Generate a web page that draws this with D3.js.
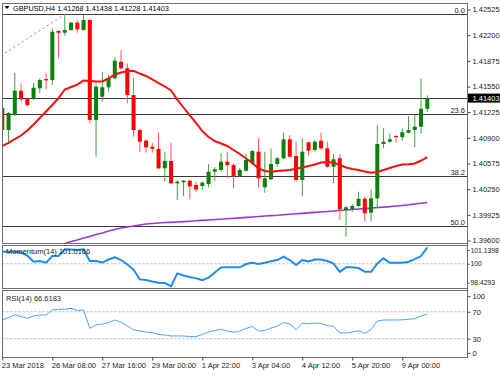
<!DOCTYPE html>
<html>
<head>
<meta charset="utf-8">
<script src="https://cdn.jsdelivr.net/npm/d3@7"></script>
<style>
body { margin: 0; background: #fff; }
svg { display: block; font-family: "Liberation Sans", Arial, sans-serif; }
</style>
</head>
<body>
<div id="chart"></div>
<script>
var width = 500;
var height = 375;

// time axis: bar index -> label
var timeIndex = [0, 8, 16, 24, 32, 40, 48, 56, 64];
var timeLabels = ["23 Mar 2018", "26 Mar 08:00", "27 Mar 16:00", "29 Mar 00:00", "1 Apr 22:00",
    "3 Apr 04:00", "4 Apr 12:00", "5 Apr 20:00", "9 Apr 00:00"];

var priceTicks = [1.42525, 1.42200, 1.41875, 1.41550, 1.41225, 1.40900, 1.40575, 1.40250, 1.39925, 1.39600];
var momTicks = [101.1398, 100, 98.4293];
var rsiTicks = [100, 70, 30, 0];

// GBPUSD H4 candles
var open = [1.41278, 1.40999, 1.41189, 1.41497, 1.41392, 1.41400, 1.41527, 1.41645, 1.41632, 1.42253,
    1.42231, 1.42265, 1.42358, 1.42265, 1.42392, 1.41126, 1.41421, 1.41540, 1.41654, 1.41864,
    1.41780, 1.41442, 1.40999, 1.40864, 1.40788, 1.40762, 1.40514, 1.40607, 1.40324, 1.40337,
    1.40357, 1.40303, 1.40290, 1.40315, 1.40471, 1.40493, 1.40598, 1.40556, 1.40417, 1.40484,
    1.40578, 1.40724, 1.40274, 1.40375, 1.40569, 1.40641, 1.40881, 1.40670, 1.40366, 1.40843,
    1.40746, 1.40864, 1.40767, 1.40534, 1.40641, 1.39986, 1.39995, 1.40037, 1.40129, 1.39952,
    1.40134, 1.40822, 1.40851, 1.40923, 1.40907, 1.40965, 1.40999, 1.41041, 1.41268];
var high = [1.41303, 1.41227, 1.41725, 1.41590, 1.41408, 1.41598, 1.41654, 1.41725, 1.42287, 1.42265,
    1.42465, 1.42370, 1.42392, 1.42455, 1.42413, 1.41598, 1.41737, 1.41695, 1.41920, 1.42012,
    1.41844, 1.41661, 1.41012, 1.40881, 1.40838, 1.40965, 1.40724, 1.40838, 1.40366, 1.40366,
    1.40366, 1.40345, 1.40345, 1.40569, 1.40527, 1.40704, 1.40724, 1.40578, 1.40518, 1.40695,
    1.40746, 1.40894, 1.40724, 1.40767, 1.40661, 1.40965, 1.40936, 1.40851, 1.40894, 1.40851,
    1.40873, 1.40965, 1.40851, 1.40695, 1.40695, 1.40037, 1.40062, 1.40218, 1.40155, 1.40248,
    1.41062, 1.41021, 1.40957, 1.40936, 1.41021, 1.41176, 1.41189, 1.41654, 1.41438];
var low = [1.40974, 1.40847, 1.41176, 1.41357, 1.41294, 1.41379, 1.41464, 1.41514, 1.41569, 1.41907,
    1.42193, 1.42256, 1.42231, 1.42259, 1.41084, 1.40661, 1.41357, 1.41484, 1.41641, 1.41768,
    1.41337, 1.40914, 1.40724, 1.40712, 1.40712, 1.40502, 1.40345, 1.40315, 1.40113, 1.40163,
    1.40122, 1.40210, 1.40239, 1.40274, 1.40357, 1.40471, 1.40388, 1.40261, 1.40404, 1.40471,
    1.40556, 1.40269, 1.40205, 1.40366, 1.40534, 1.40628, 1.40653, 1.40345, 1.40155, 1.40670,
    1.40724, 1.40746, 1.40522, 1.40324, 1.39860, 1.39648, 1.39965, 1.40028, 1.39838, 1.39838,
    1.40008, 1.40767, 1.40838, 1.40838, 1.40864, 1.40957, 1.40780, 1.40957, 1.41228];
var close = [1.40999, 1.41214, 1.41497, 1.41388, 1.41316, 1.41535, 1.41632, 1.41628, 1.42244, 1.42231,
    1.42265, 1.42358, 1.42274, 1.42392, 1.41126, 1.41547, 1.41540, 1.41654, 1.41877, 1.41780,
    1.41442, 1.40999, 1.40851, 1.40780, 1.40762, 1.40514, 1.40607, 1.40324, 1.40345, 1.40357,
    1.40286, 1.40246, 1.40332, 1.40471, 1.40502, 1.40598, 1.40556, 1.40417, 1.40493, 1.40619,
    1.40733, 1.40388, 1.40388, 1.40569, 1.40641, 1.40881, 1.40661, 1.40366, 1.40724, 1.40737,
    1.40851, 1.40767, 1.40534, 1.40628, 1.39995, 1.40020, 1.40037, 1.40129, 1.39944, 1.40134,
    1.40822, 1.40851, 1.40881, 1.40910, 1.40970, 1.40999, 1.41041, 1.41268, 1.41403];

// moving averages
var maRed = [1.40797, 1.40835, 1.40885, 1.40929, 1.40993, 1.41069, 1.41151, 1.41233, 1.41316, 1.41404,
    1.41512, 1.41544, 1.41573, 1.41626, 1.41620, 1.41613, 1.41613, 1.41651, 1.41702, 1.41727,
    1.41744, 1.41749, 1.41714, 1.41683, 1.41639, 1.41594, 1.41550, 1.41499, 1.41385, 1.41284,
    1.41183, 1.41088, 1.40986, 1.40910, 1.40860, 1.40828, 1.40797, 1.40746, 1.40695, 1.40638,
    1.40581, 1.40514, 1.40480, 1.40471, 1.40480, 1.40486, 1.40493, 1.40509, 1.40524, 1.40543,
    1.40562, 1.40588, 1.40594, 1.40588, 1.40556, 1.40524, 1.40505, 1.40493, 1.40474, 1.40458,
    1.40467, 1.40493, 1.40518, 1.40543, 1.40562, 1.40566, 1.40575, 1.40613, 1.40657];
var maPurple = [null, null, null, null, null, null, null, null, null, null,
    1.39562, 1.39587, 1.39606, 1.39632, 1.39651, 1.39676, 1.39695, 1.39720, 1.39739, 1.39758,
    1.39771, 1.39784, 1.39796, 1.39809, 1.39815, 1.39822, 1.39827, 1.39830, 1.39834, 1.39839,
    1.39844, 1.39850, 1.39855, 1.39860, 1.39865, 1.39870, 1.39876, 1.39881, 1.39887, 1.39893,
    1.39898, 1.39904, 1.39910, 1.39915, 1.39920, 1.39927, 1.39933, 1.39938, 1.39944, 1.39950,
    1.39956, 1.39961, 1.39967, 1.39974, 1.39980, 1.39986, 1.39993, 1.39999, 1.40004, 1.40010,
    1.40017, 1.40023, 1.40029, 1.40037, 1.40044, 1.40052, 1.40062, 1.40071, 1.40081];

// Momentum(14)
var momentum = [100.996, 100.996, 100.996, 100.929, 100.680, 100.166, 100.224, 100.083, 100.639, 100.639,
    101.195, 101.178, 101.137, 101.195, 100.224, 100.224, 100.100, 100.349, 100.531, 100.307,
    99.934, 99.519, 98.705, 98.647, 98.523, 98.423, 98.398, 98.149, 99.203, 99.021,
    98.896, 98.788, 98.647, 98.855, 99.270, 99.685, 99.701, 99.701, 99.701, 99.975,
    100.083, 99.975, 100.083, 100.199, 100.307, 100.581, 100.307, 99.892, 100.307, 100.183,
    100.349, 100.349, 100.224, 100.017, 99.336, 99.701, 99.701, 99.643, 99.336, 99.336,
    100.017, 100.448, 100.083, 100.083, 100.083, 100.166, 100.390, 100.639, 101.361];

// RSI(14)
var rsi = [57.8, 61.5, 65.2, 63.0, 60.3, 63.7, 65.2, 65.2, 72.6, 73.6,
    73.6, 75.1, 71.9, 72.6, 45.5, 50.4, 51.9, 53.8, 57.8, 54.1,
    48.9, 43.0, 41.5, 40.0, 39.0, 36.3, 35.6, 34.1, 34.1, 34.1,
    33.3, 33.0, 36.3, 40.0, 42.2, 44.0, 41.5, 39.6, 41.5, 45.2,
    48.1, 41.5, 42.2, 45.9, 48.6, 54.1, 51.9, 43.7, 53.3, 52.1,
    53.3, 52.6, 49.6, 48.4, 38.5, 38.5, 40.0, 41.9, 38.1, 43.4,
    56.3, 57.8, 57.8, 57.8, 58.1, 58.8, 59.7, 63.7, 66.6];

// Fibonacci retracement anchors
var fibLevels = [0, 23.6, 38.2, 50.0];
var fibHigh = 1.42465, fibHighBar = 10;
var fibLow = 1.37091, fibLowBar = -94;
var lastPrice = 1.41403;

var svg = d3.select("#chart").append("svg")
    .attr("width", width)
    .attr("height", height);

svg.append("rect").attr("width", width).attr("height", height).attr("fill", "#fff");

// panel boxes
var left = 2.5, right = 467.5;
var panels = [
    { top: 3.5, bottom: 243.5 },
    { top: 245.5, bottom: 288.5 },
    { top: 290.5, bottom: 357.5 }
];

var x = d3.scaleLinear().domain([0, 68]).range([2.3, 427.3]);
var y = d3.scaleLinear().domain([1.39600, 1.42525]).range([240.5, 9.5]);
var yMom = d3.scaleLinear().domain([98.4293, 101.1398]).range([282.7, 250]);
var yRsi = d3.scaleLinear().domain([0, 100]).range([359, 291.5]);

var defs = svg.append("defs");
defs.append("clipPath").attr("id", "clipMain").append("rect")
    .attr("x", 3).attr("y", 4).attr("width", 464).attr("height", 239);
defs.append("clipPath").attr("id", "clipMom").append("rect")
    .attr("x", 3).attr("y", 246).attr("width", 464).attr("height", 42);
defs.append("clipPath").attr("id", "clipRsi").append("rect")
    .attr("x", 3).attr("y", 291).attr("width", 464).attr("height", 66);

// ---------- main panel ----------
var main = svg.append("g").attr("clip-path", "url(#clipMain)");

// fib levels
var fibPrice = function(lv) { return fibHigh - lv / 100 * (fibHigh - fibLow); };
main.selectAll("line.fib")
    .data(fibLevels)
    .enter()
    .append("line")
    .attr("x1", left).attr("x2", right)
    .attr("y1", function(d) { return Math.round(y(fibPrice(d))) + 0.5; })
    .attr("y2", function(d) { return Math.round(y(fibPrice(d))) + 0.5; })
    .attr("stroke", "#3c3c3c")
    .attr("stroke-width", 1);

// fib trend line (dotted)
main.append("line")
    .attr("x1", x(fibLowBar)).attr("y1", y(fibLow))
    .attr("x2", x(fibHighBar)).attr("y2", y(fibHigh))
    .attr("stroke", "#f06060")
    .attr("stroke-width", 1)
    .attr("stroke-dasharray", "2,3");

// current price line
main.append("line")
    .attr("x1", left).attr("x2", right)
    .attr("y1", Math.round(y(lastPrice)) + 0.5)
    .attr("y2", Math.round(y(lastPrice)) + 0.5)
    .attr("stroke", "#3c3c3c")
    .attr("stroke-width", 1);

// moving averages
var maLine = d3.line()
    .defined(function(d) { return d != null; })
    .x(function(d, i) { return x(i); })
    .y(function(d) { return y(d); });

main.append("path")
    .attr("d", maLine(maPurple))
    .attr("fill", "none")
    .attr("stroke", "#9b36d6")
    .attr("stroke-width", 1.6);

// candles
var candle = main.selectAll("g.candle")
    .data(d3.range(open.length))
    .enter()
    .append("g")
    .attr("class", "candle");

candle.append("line") // wick
    .attr("x1", function(i) { return x(i); })
    .attr("x2", function(i) { return x(i); })
    .attr("y1", function(i) { return y(high[i]); })
    .attr("y2", function(i) { return y(low[i]); })
    .attr("stroke", function(i) { return close[i] >= open[i] ? "#45a045" : "#ff5a5a"; })
    .attr("stroke-width", 1);

candle.append("rect") // body
    .attr("x", function(i) { return x(i) - 2; })
    .attr("width", 4)
    .attr("y", function(i) { return y(Math.max(open[i], close[i])); })
    .attr("height", function(i) { return Math.max(1, Math.abs(y(open[i]) - y(close[i]))); })
    .attr("fill", function(i) { return close[i] >= open[i] ? "#0b800b" : "#ff0000"; });

main.append("path")
    .attr("d", maLine(maRed))
    .attr("fill", "none")
    .attr("stroke", "#f21010")
    .attr("stroke-width", 2);

// fib labels
svg.selectAll("text.fib")
    .data(fibLevels)
    .enter()
    .append("text")
    .attr("x", 465)
    .attr("y", function(d) { return Math.round(y(fibPrice(d))) - 1; })
    .attr("text-anchor", "end")
    .attr("font-size", 7.5)
    .attr("fill", "#222")
    .text(function(d) { return d3.format(".1f")(d); });

// header
svg.append("path").attr("d", "M4.5,6 L9.5,6 L7,9 Z").attr("fill", "#000");
svg.append("text")
    .attr("x", 13).attr("y", 11)
    .attr("font-size", 7.3)
    .attr("fill", "#000")
    .text("GBPUSD,H4  " + [open[68], high[68], low[68], close[68]].map(d3.format(".5f")).join(" "));

// ---------- momentum panel ----------
var mom = svg.append("g").attr("clip-path", "url(#clipMom)");
mom.append("line")
    .attr("x1", left).attr("x2", right)
    .attr("y1", yMom(100)).attr("y2", yMom(100))
    .attr("stroke", "#b4b4b4")
    .attr("stroke-dasharray", "2,2");
svg.append("text")
    .attr("x", 6).attr("y", 254)
    .attr("font-size", 7.5)
    .attr("fill", "#222")
    .text("Momentum(14) 101.0166");
mom.append("path")
    .attr("d", d3.line().x(function(d, i) { return x(i); }).y(function(d) { return yMom(d); })(momentum))
    .attr("fill", "none")
    .attr("stroke", "#1e8cf0")
    .attr("stroke-width", 2);

// ---------- RSI panel ----------
var rs = svg.append("g").attr("clip-path", "url(#clipRsi)");
rs.selectAll("line.lvl")
    .data([70, 30])
    .enter()
    .append("line")
    .attr("x1", left).attr("x2", right)
    .attr("y1", function(d) { return yRsi(d); })
    .attr("y2", function(d) { return yRsi(d); })
    .attr("stroke", "#b4b4b4")
    .attr("stroke-dasharray", "2,2");
svg.append("text")
    .attr("x", 6).attr("y", 301)
    .attr("font-size", 7.5)
    .attr("fill", "#222")
    .text("RSI(14) 66.6183");
rs.append("path")
    .attr("d", d3.line().x(function(d, i) { return x(i); }).y(function(d) { return yRsi(d); })(rsi))
    .attr("fill", "none")
    .attr("stroke", "#48a4ff")
    .attr("stroke-width", 1);

// ---------- frames ----------
panels.forEach(function(p) {
    svg.append("rect")
        .attr("x", left).attr("y", p.top)
        .attr("width", right - left).attr("height", p.bottom - p.top)
        .attr("fill", "none")
        .attr("stroke", "#6e6e6e")
        .attr("stroke-width", 1);
});

// ---------- axes ----------
var axisFont = function(g) {
    g.select(".domain").remove();
    g.selectAll("text").attr("font-size", 7.5).attr("font-family", "Liberation Sans, Arial, sans-serif").attr("fill", "#222");
    g.selectAll("line").attr("stroke", "#444");
};

svg.append("g")
    .attr("transform", "translate(" + right + ",0)")
    .call(d3.axisRight(y).tickValues(priceTicks).tickFormat(d3.format(".5f")).tickSize(3).tickPadding(2))
    .call(axisFont);

svg.append("g")
    .attr("transform", "translate(" + right + ",0)")
    .call(d3.axisRight(yMom).tickValues(momTicks).tickFormat(function(d) { return d === 100 ? "100" : d3.format(".4f")(d); }).tickSize(2).tickPadding(1))
    .call(axisFont)
    .selectAll("text").attr("font-size", 6.8);

var rsiAxis = svg.append("g")
    .attr("transform", "translate(" + right + ",0)")
    .call(d3.axisRight(yRsi).tickValues(rsiTicks).tickSize(3).tickPadding(2))
    .call(axisFont);
// MT4 keeps the end labels inside the window
rsiAxis.selectAll(".tick")
    .filter(function(d) { return d === 100 || d === 0; })
    .attr("transform", function(d) { return "translate(0," + (d === 100 ? 296.7 : 353.3) + ")"; });

// current price label box
svg.append("rect")
    .attr("x", right).attr("y", y(lastPrice) - 4.5)
    .attr("width", 33).attr("height", 9)
    .attr("fill", "#000");
svg.append("text")
    .attr("x", right + 5).attr("y", y(lastPrice) + 2.7)
    .attr("font-size", 7.5)
    .attr("fill", "#fff")
    .text(d3.format(".5f")(lastPrice));

var timeAxis = svg.append("g")
    .attr("transform", "translate(0," + panels[2].bottom + ")")
    .call(d3.axisBottom(x).tickValues(timeIndex).tickFormat(function(d, i) { return timeLabels[i]; }).tickSize(3).tickPadding(2))
    .call(axisFont);
timeAxis.selectAll("text").attr("text-anchor", "start").attr("dx", -1);

// right edge axis line
svg.append("line")
    .attr("x1", right).attr("x2", right)
    .attr("y1", 3).attr("y2", 358)
    .attr("stroke", "#6e6e6e");
</script>
</body>
</html>
